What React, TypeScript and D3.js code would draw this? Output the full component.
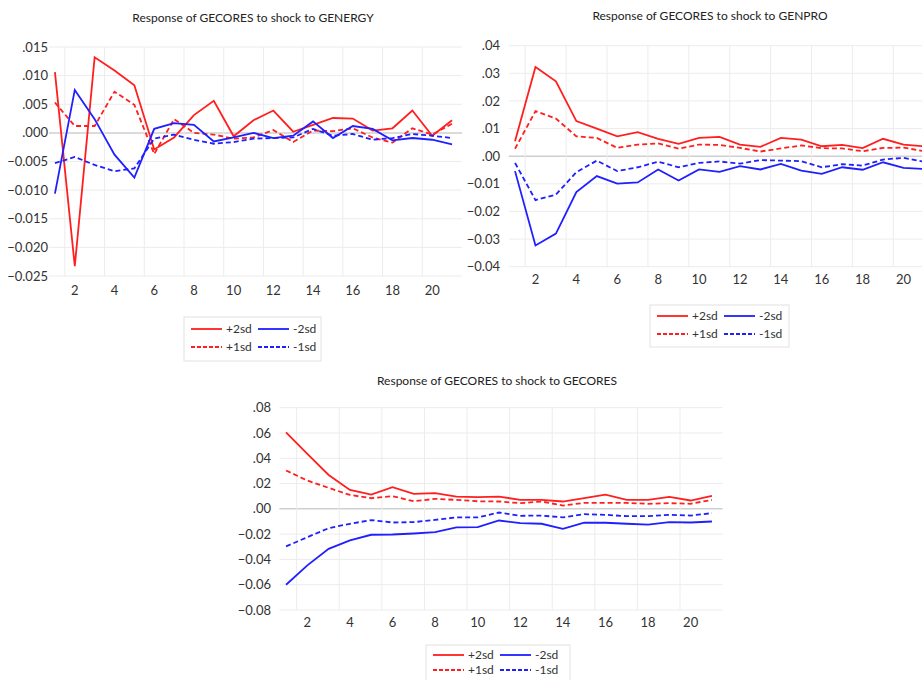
import React from "react";
import * as d3 from "d3";

const periods = d3.range(1, 22);
const xTickLabels = [2, 4, 6, 8, 10, 12, 14, 16, 18, 20];
const xGridAt = [1.5, 3.5, 5.5, 7.5, 9.5, 11.5, 13.5, 15.5, 17.5, 19.5];

// Panel 1: shock to GENERGY
const energyPlus2 = [0.0106, -0.0233, 0.0132, 0.0109, 0.0083, -0.0029, -0.0008, 0.0031, 0.0056, -0.0006, 0.0022, 0.0039, 0.0002, 0.0014, 0.0026, 0.0025, 0.0004, 0.0008, 0.0039, -0.0005, 0.0022];
const energyPlus1 = [0.0053, 0.0012, 0.0012, 0.0072, 0.0049, -0.0037, 0.0024, 0.0, -0.0003, -0.001, -0.0008, 0.0005, -0.0016, 0.0004, 0.0003, 0.0008, -0.0008, -0.0017, 0.0008, -0.0003, 0.0016];
const energyMinus2 = [-0.0106, 0.0075, 0.0024, -0.0038, -0.0078, 0.0007, 0.0017, 0.0014, -0.0015, -0.0008, 0.0, -0.0009, -0.0005, 0.002, -0.0009, 0.0012, 0.0007, -0.0013, -0.0009, -0.0012, -0.002];
const energyMinus1 = [-0.0053, -0.0042, -0.0056, -0.0067, -0.0062, -0.001, -0.0003, -0.0012, -0.0019, -0.0016, -0.001, -0.0009, -0.0008, 0.0007, -0.0005, -0.0002, -0.0012, -0.0009, -0.0002, -0.0005, -0.0009];
const energyYTicks = [0.015, 0.01, 0.005, 0.0, -0.005, -0.01, -0.015, -0.02, -0.025];

// Panel 2: shock to GENPRO
const proPlus2 = [0.0054, 0.0323, 0.0271, 0.0127, 0.01, 0.0072, 0.0087, 0.0063, 0.0045, 0.0066, 0.007, 0.0042, 0.0034, 0.0066, 0.006, 0.0036, 0.0041, 0.0029, 0.0063, 0.0042, 0.0036];
const proPlus1 = [0.0027, 0.0163, 0.0136, 0.0072, 0.0066, 0.003, 0.0042, 0.0046, 0.0027, 0.0042, 0.0041, 0.003, 0.0017, 0.0028, 0.0039, 0.0029, 0.0028, 0.0018, 0.003, 0.0031, 0.0018];
const proMinus2 = [-0.0054, -0.0323, -0.028, -0.013, -0.0072, -0.0099, -0.0095, -0.0048, -0.0088, -0.0048, -0.0057, -0.0036, -0.0048, -0.0028, -0.0052, -0.0064, -0.004, -0.0049, -0.0022, -0.0042, -0.0046];
const proMinus1 = [-0.0024, -0.0159, -0.0139, -0.0058, -0.0016, -0.0054, -0.004, -0.002, -0.004, -0.0024, -0.0019, -0.0027, -0.0014, -0.0016, -0.0018, -0.004, -0.0029, -0.0034, -0.0012, -0.0006, -0.002];
const proYTicks = [0.04, 0.03, 0.02, 0.01, 0.0, -0.01, -0.02, -0.03, -0.04];

// Panel 3: shock to GECORES
const coresPlus2 = [0.0605, 0.0434, 0.0268, 0.015, 0.0113, 0.0171, 0.0118, 0.0124, 0.0097, 0.0092, 0.0097, 0.0071, 0.0071, 0.0058, 0.0084, 0.0113, 0.0071, 0.0071, 0.0095, 0.0066, 0.0103];
const coresPlus1 = [0.0303, 0.0224, 0.0166, 0.011, 0.0084, 0.01, 0.006, 0.0079, 0.0071, 0.006, 0.0058, 0.0045, 0.0058, 0.0026, 0.0047, 0.0047, 0.0047, 0.004, 0.0045, 0.004, 0.0071];
const coresMinus2 = [-0.06, -0.0447, -0.0316, -0.025, -0.0205, -0.0203, -0.0195, -0.0184, -0.0147, -0.0145, -0.0092, -0.0113, -0.0118, -0.0158, -0.011, -0.011, -0.0118, -0.0124, -0.0105, -0.0108, -0.01];
const coresMinus1 = [-0.0297, -0.0224, -0.0153, -0.0118, -0.0089, -0.0108, -0.0105, -0.0087, -0.0068, -0.0068, -0.0029, -0.0055, -0.0053, -0.0068, -0.0042, -0.0047, -0.0058, -0.0058, -0.0047, -0.0053, -0.0034];
const coresYTicks = [0.08, 0.06, 0.04, 0.02, 0.0, -0.02, -0.04, -0.06, -0.08];

const legendLabels = ["+2sd", "-2sd", "+1sd", "-1sd"];

const RED = "#ff1f1f";
const BLUE = "#1f1fff";
const FONT = "Lato, 'Open Sans', sans-serif";

function fmtTick(v: number, digits: number) {
  const s = d3.format(`.${digits}f`)(v);
  return s.replace(/^(-?)0\./, "$1.");
}

type PanelProps = {
  title: string;
  titleX: number;
  titleY: number;
  series: number[][];
  yTicks: number[];
  digits: number;
  x0: number;
  x1: number;
  yTop: number;
  yBottom: number;
  xLabelY: number;
  yLabelRight: number;
  legend: { x: number; y: number; w: number; h: number; row0: number; rowGap: number };
};

function Panel(p: PanelProps) {
  const x = d3.scaleLinear().domain([0.5, 21.5]).range([p.x0, p.x1]);
  const y = d3
    .scaleLinear()
    .domain([d3.min(p.yTicks)!, d3.max(p.yTicks)!])
    .range([p.yBottom, p.yTop]);
  const line = d3
    .line<number>()
    .x((_, i) => x(periods[i]))
    .y((d) => y(d));
  const styles = [
    { color: RED, dash: undefined },
    { color: RED, dash: "5 3" },
    { color: BLUE, dash: undefined },
    { color: BLUE, dash: "5 3" },
  ];
  const L = p.legend;
  const legendItems = [
    { label: legendLabels[0], s: styles[0], col: 0, row: 0 },
    { label: legendLabels[1], s: styles[2], col: 1, row: 0 },
    { label: legendLabels[2], s: styles[1], col: 0, row: 1 },
    { label: legendLabels[3], s: styles[3], col: 1, row: 1 },
  ];
  return (
    <g>
      <text x={p.titleX} y={p.titleY} textAnchor="middle" fontSize={12} fill="#222" fontFamily={FONT}>
        {p.title}
      </text>
      {p.yTicks.map((t) => (
        <line
          key={"h" + t}
          x1={p.x0 + 4}
          x2={p.x1}
          y1={y(t)}
          y2={y(t)}
          stroke={t === 0 ? "#cfcfcf" : "#ececec"}
          strokeWidth={t === 0 ? 1.5 : 1}
        />
      ))}
      {xGridAt.map((g) => (
        <line key={"v" + g} x1={x(g)} x2={x(g)} y1={p.yTop} y2={p.yBottom} stroke="#ececec" strokeWidth={1} />
      ))}
      {p.yTicks.map((t) => (
        <text
          key={"yl" + t}
          x={p.yLabelRight}
          y={y(t)}
          dy="0.35em"
          textAnchor="end"
          fontSize={13}
          fill="#333"
          fontFamily={FONT}
        >
          {fmtTick(t, p.digits)}
        </text>
      ))}
      {xTickLabels.map((t) => (
        <text key={"xl" + t} x={x(t)} y={p.xLabelY} dy="0.35em" textAnchor="middle" fontSize={13} fill="#333" fontFamily={FONT}>
          {t}
        </text>
      ))}
      {p.series.map((s, i) => (
        <path
          key={"s" + i}
          d={line(s) || ""}
          fill="none"
          stroke={styles[i].color}
          strokeWidth={1.8}
          strokeDasharray={styles[i].dash}
          strokeLinejoin="miter"
        />
      ))}
      <rect x={L.x} y={L.y} width={L.w} height={L.h} fill="#fff" stroke="#e2e2e2" strokeWidth={1} />
      {legendItems.map((it) => {
        const lx = L.x + 7 + it.col * 67;
        const ly = L.y + L.row0 + it.row * L.rowGap;
        return (
          <g key={it.label}>
            <line x1={lx} x2={lx + 31} y1={ly} y2={ly} stroke={it.s.color} strokeWidth={1.8} strokeDasharray={it.s.dash ? "4 2" : undefined} />
            <text x={lx + 35} y={ly} dy="0.35em" fontSize={12} fill="#333" fontFamily={FONT}>
              {it.label}
            </text>
          </g>
        );
      })}
    </g>
  );
}

export default function App() {
  return (
    <svg width={922} height={680} style={{ position: "absolute", left: 0, top: 0, background: "#fff" }}>
      <rect x={0} y={0} width={922} height={680} fill="#fff" />
      <Panel
        title="Response of GECORES to shock to GENERGY"
        titleX={253}
        titleY={22}
        series={[energyPlus2, energyPlus1, energyMinus2, energyMinus1]}
        yTicks={energyYTicks}
        digits={3}
        x0={45}
        x1={462}
        yTop={47}
        yBottom={276}
        xLabelY={290}
        yLabelRight={48}
        legend={{ x: 184, y: 317, w: 137, h: 44, row0: 12, rowGap: 18 }}
      />
      <Panel
        title="Response of GECORES to shock to GENPRO"
        titleX={710}
        titleY={20}
        series={[proPlus2, proPlus1, proMinus2, proMinus1]}
        yTicks={proYTicks}
        digits={2}
        x0={504.8}
        x1={934.2}
        yTop={45.7}
        yBottom={266.7}
        xLabelY={279}
        yLabelRight={500}
        legend={{ x: 650, y: 305, w: 139, h: 42, row0: 11, rowGap: 18 }}
      />
      <Panel
        title="Response of GECORES to shock to GECORES"
        titleX={497}
        titleY={385}
        series={[coresPlus2, coresPlus1, coresMinus2, coresMinus1]}
        yTicks={coresYTicks}
        digits={2}
        x0={275.4}
        x1={722.6}
        yTop={407.7}
        yBottom={610}
        xLabelY={622}
        yLabelRight={271}
        legend={{ x: 426, y: 645, w: 144, h: 40, row0: 10, rowGap: 15 }}
      />
    </svg>
  );
}
